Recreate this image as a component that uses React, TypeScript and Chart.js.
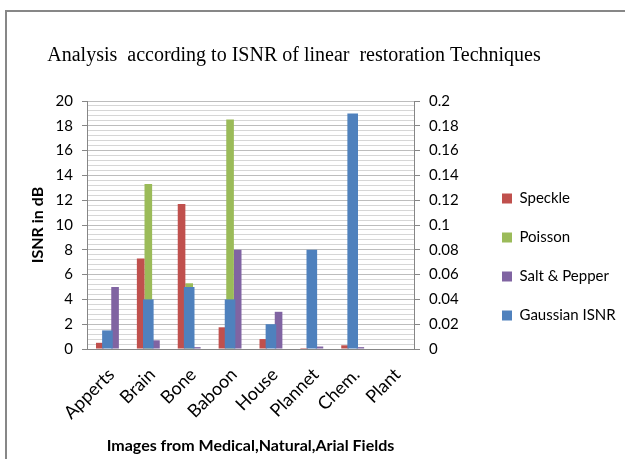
import React, { useEffect, useRef } from 'react';
import { Chart, registerables } from 'chart.js';

Chart.register(...registerables);

const categories = ['Apperts', 'Brain', 'Bone', 'Baboon', 'House', 'Plannet', 'Chem.', 'Plant'];
const speckle = [0.5, 7.3, 11.7, 1.75, 0.8, 0.08, 0.3, 0];
const poisson = [0, 13.3, 5.3, 18.5, 0, 0, 0, 0];
const saltPepper = [5, 0.7, 0.15, 8, 3, 0.2, 0.15, 0];
const gaussian = [0.015, 0.04, 0.05, 0.04, 0.02, 0.08, 0.19, 0];

const leftTickValues = [0, 2, 4, 6, 8, 10, 12, 14, 16, 18, 20];
const leftTickLabels = ['0', '2', '4', '6', '8', '10', '12', '14', '16', '18', '20'];
const rightTickValues = [0, 0.02, 0.04, 0.06, 0.08, 0.1, 0.12, 0.14, 0.16, 0.18, 0.2];
const rightTickLabels = ['0', '0.02', '0.04', '0.06', '0.08', '0.1', '0.12', '0.14', '0.16', '0.18', '0.2'];

const TITLE = 'Analysis  according to ISNR of linear  restoration Techniques';
const X_TITLE = 'Images from Medical,Natural,Arial Fields';
const Y_TITLE = 'ISNR in dB';

const findIndex = (vals: number[], v: number) => vals.findIndex((t) => Math.abs(t - v) < 1e-6);

const framePlugin = {
  id: 'frame',
  beforeDraw(chart: any) {
    const ctx = chart.ctx;
    ctx.save();
    ctx.strokeStyle = '#878787';
    ctx.lineWidth = 2;
    ctx.beginPath();
    ctx.moveTo(6, chart.height);
    ctx.lineTo(6, 11);
    ctx.lineTo(chart.width, 11);
    ctx.stroke();
    ctx.restore();
  },
};

// widen the title and legend boxes after layout (layout caps side boxes at a fraction of the width)
const boxAdjustPlugin = {
  id: 'boxAdjust',
  afterLayout(chart: any) {
    const t = chart.titleBlock;
    if (t) {
      t.left = 0;
      t.right = 588;
    }
    const l = chart.legend;
    if (l) {
      l.right = chart.width;
      l.width = l.right - l.left;
    }
  },
};

export default function App() {
  const ref = useRef<HTMLCanvasElement | null>(null);

  useEffect(() => {
    if (!ref.current) return;
    Chart.defaults.font.family = 'Lato';
    const chart = new Chart(ref.current, {
      type: 'bar',
      data: {
        labels: categories,
        datasets: [
          { label: 'Speckle', data: speckle, backgroundColor: '#C0504D', yAxisID: 'y', order: 1 },
          { label: 'Poisson', data: poisson, backgroundColor: '#9BBB59', yAxisID: 'y', order: 1 },
          { label: 'Salt & Pepper', data: saltPepper, backgroundColor: '#8064A2', yAxisID: 'y', order: 1 },
          {
            label: 'Gaussian ISNR',
            data: gaussian,
            backgroundColor: '#4F81BD',
            yAxisID: 'y2',
            grouped: false,
            categoryPercentage: 0.26,
            barPercentage: 1,
            order: 0,
          } as any,
        ],
      },
      options: {
        animation: false,
        responsive: false,
        devicePixelRatio: 1,
        datasets: { bar: { categoryPercentage: 0.56, barPercentage: 1, borderWidth: 0 } },
        layout: { padding: { left: 25, right: 56.4, top: 0, bottom: 0 } },
        plugins: {
          title: {
            display: true,
            text: TITLE,
            color: '#000',
            font: { family: 'Liberation Serif', size: 20, weight: 'normal' },
            padding: { top: 44, bottom: 33 },
          },
          legend: {
            position: 'right',
            align: 'start',
            title: { display: true, text: ' ', font: { size: 10 }, padding: { top: 0, bottom: 155 } },
            labels: {
              boxWidth: 10,
              boxHeight: 10,
              padding: 24,
              color: '#000',
              font: { size: 15 },
              sort: (a: any, b: any) => a.datasetIndex - b.datasetIndex,
            },
          },
          tooltip: { enabled: false },
        },
        scales: {
          x: {
            grid: { display: false },
            border: { display: true, color: '#868686' },
            ticks: {
              color: '#000',
              font: { size: 18 },
              minRotation: 45,
              maxRotation: 45,
              autoSkip: false,
              padding: 7,
              labelOffset: 4,
            },
            title: { display: true, text: X_TITLE, color: '#000', font: { size: 16, weight: 'bold' } },
            afterFit: (s: any) => {
              s.height = 110;
            },
          },
          y: {
            position: 'left',
            min: 0,
            max: 20,
            ticks: {
              stepSize: 0.4,
              autoSkip: false,
              color: '#000',
              font: { size: 15 },
              padding: 9,
              callback: (v: any) => {
                const i = findIndex(leftTickValues, Number(v));
                return i >= 0 ? leftTickLabels[i] : '';
              },
            },
            grid: {
              color: (c: any) => (findIndex(leftTickValues, c.tick ? c.tick.value : -1) >= 0 ? '#bdbdbd' : '#d6d6d6'),
              tickColor: (c: any) => (findIndex(leftTickValues, c.tick ? c.tick.value : -1) >= 0 ? '#868686' : 'rgba(0,0,0,0)'),
              tickLength: 5,
            },
            border: { color: '#868686' },
            title: { display: true, text: Y_TITLE, color: '#000', font: { size: 16, weight: 'bold' }, padding: { top: 3, bottom: 4 } },
            afterFit: (s: any) => {
              s.width = 62;
            },
          },
          y2: {
            position: 'right',
            min: 0,
            max: 0.2,
            ticks: {
              stepSize: 0.02,
              autoSkip: false,
              color: '#000',
              font: { size: 15 },
              padding: 9,
              callback: (v: any) => {
                const i = findIndex(rightTickValues, Number(v));
                return i >= 0 ? rightTickLabels[i] : '';
              },
            },
            grid: { drawOnChartArea: false, tickLength: 6, tickColor: '#868686' },
            border: { color: '#868686' },
            afterFit: (s: any) => {
              s.width = 64;
            },
          },
        },
      } as any,
      plugins: [framePlugin, boxAdjustPlugin],
    });
    return () => chart.destroy();
  }, []);

  return (
    <div style={{ position: 'absolute', left: 0, top: 0, width: 625, height: 459 }}>
      <canvas ref={ref} width={625} height={459} />
    </div>
  );
}
